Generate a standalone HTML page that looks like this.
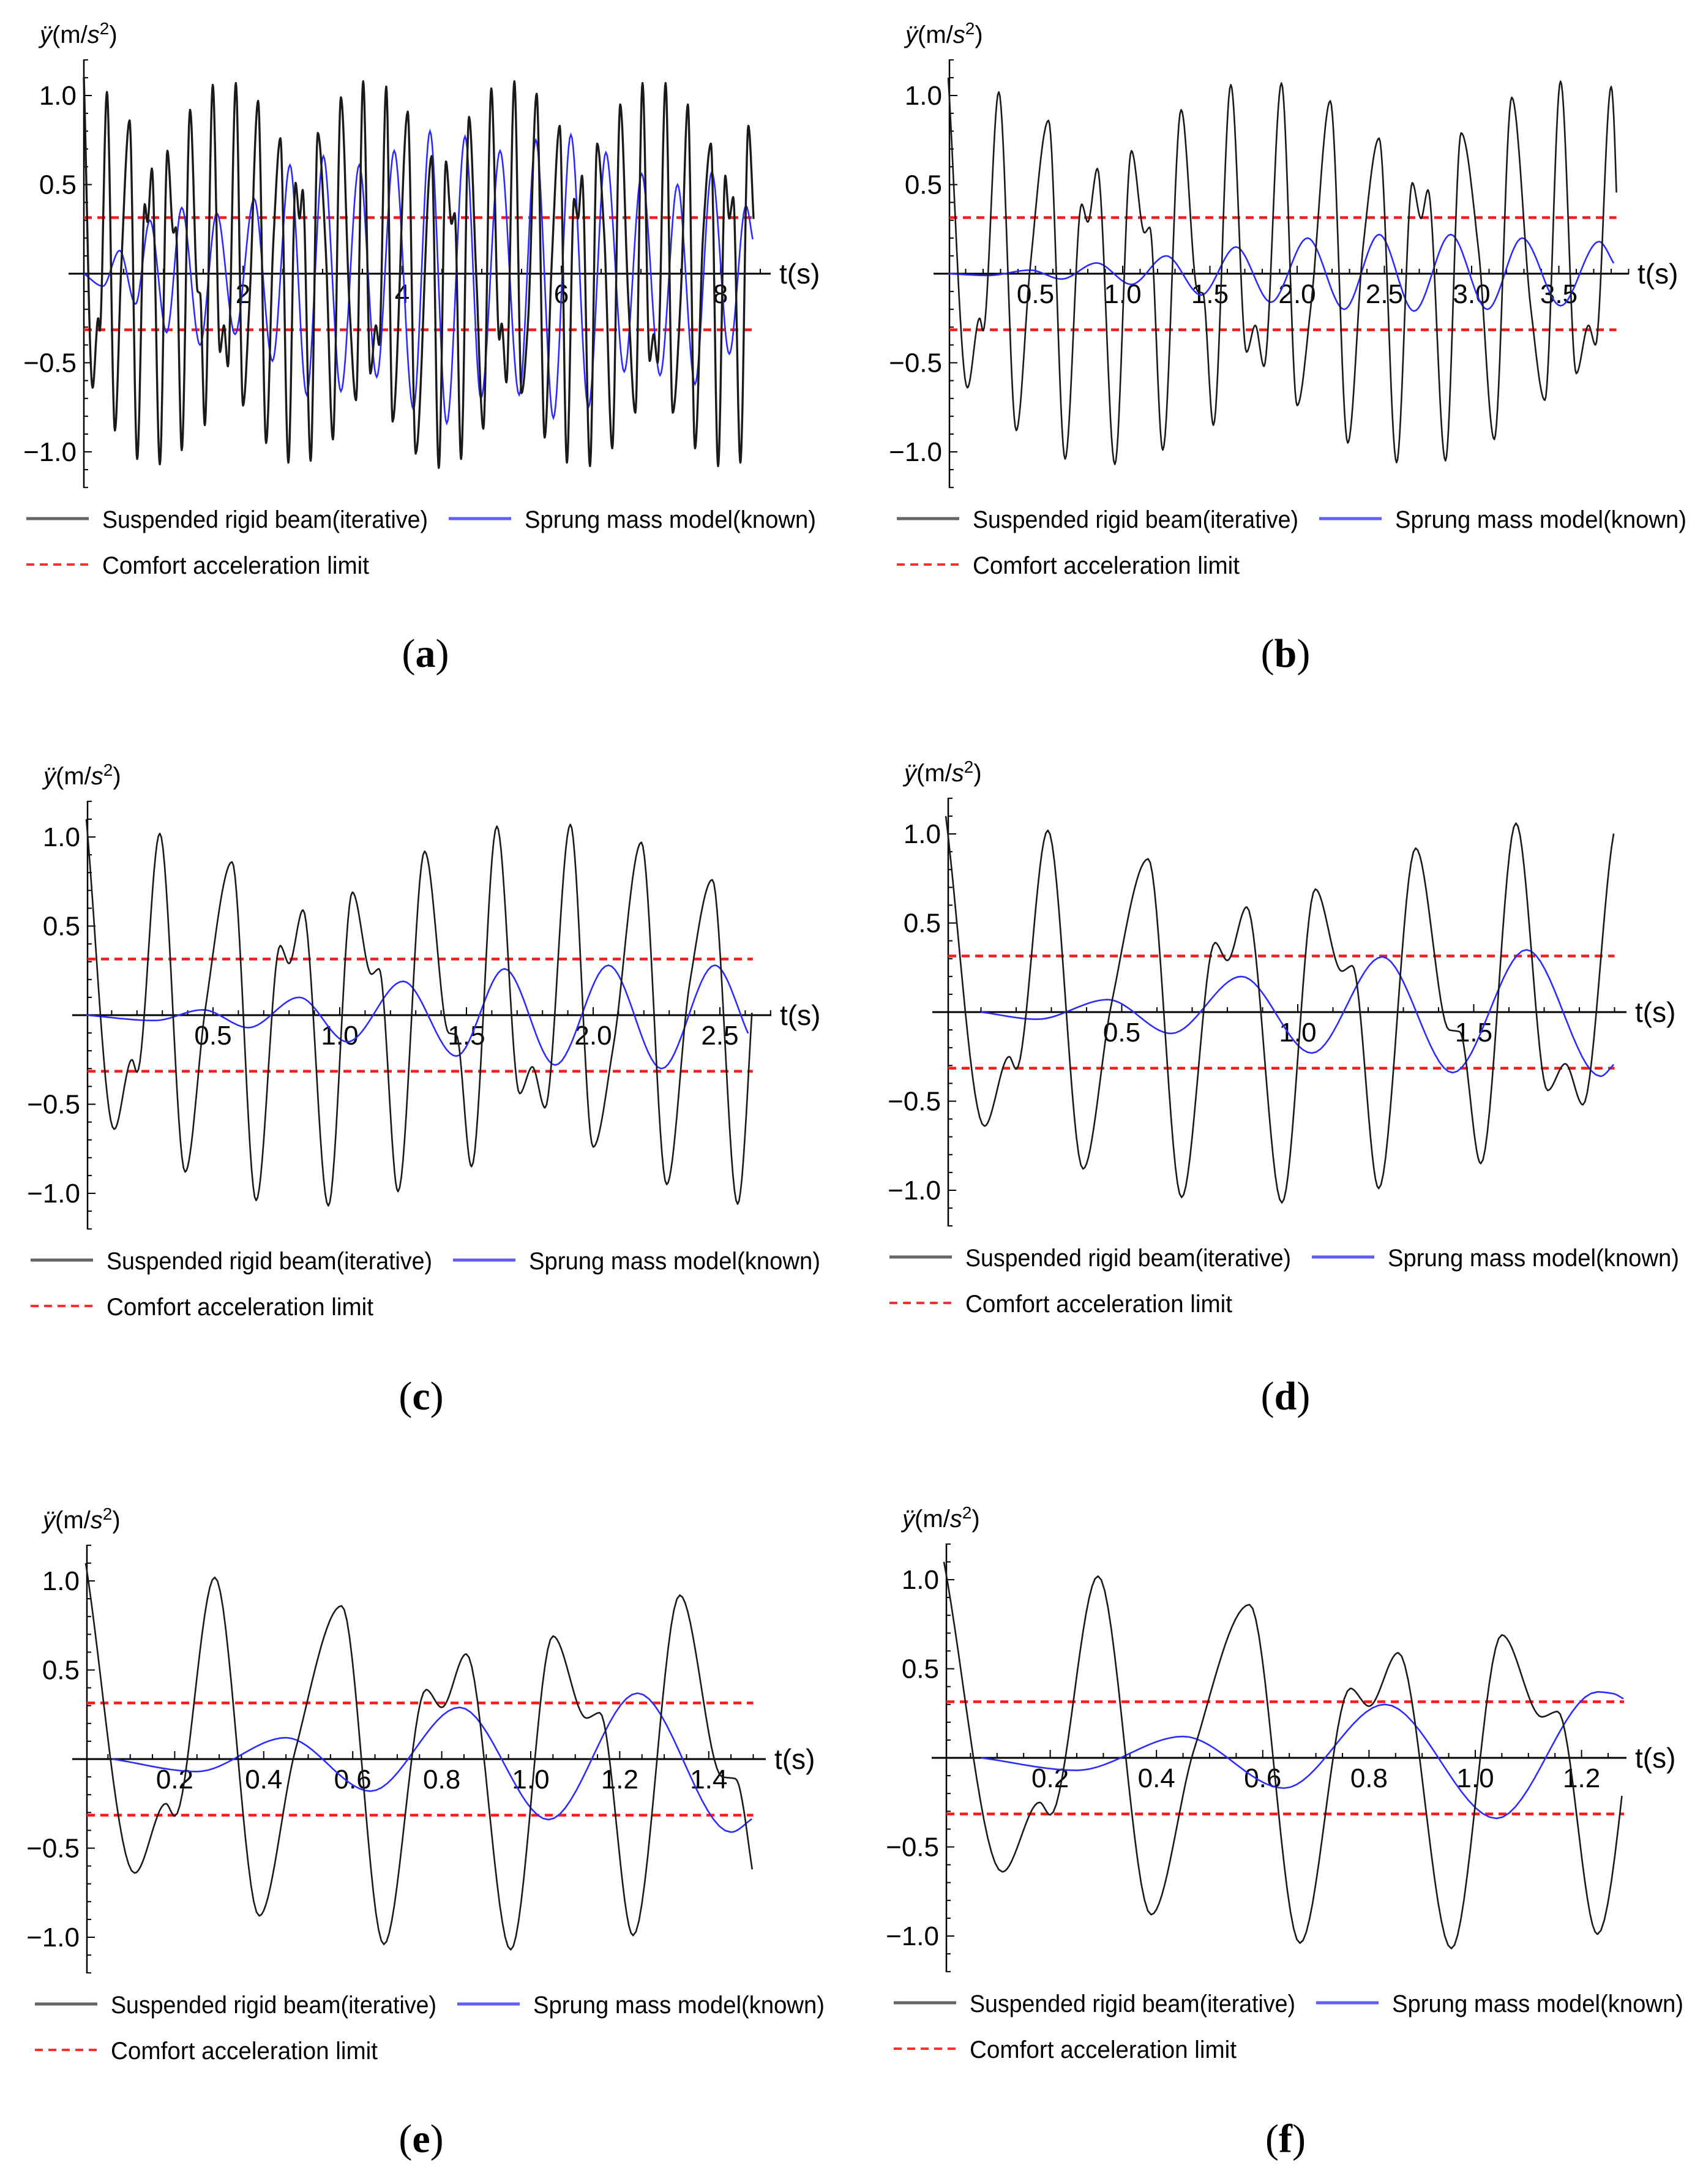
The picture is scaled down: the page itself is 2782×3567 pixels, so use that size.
<!DOCTYPE html>
<html><head><meta charset="utf-8"><style>
html,body{margin:0;padding:0;background:#fff;}
svg{display:block;}
text{font-family:"Liberation Sans",sans-serif;}
</style></head><body>
<svg id="fig" width="2782" height="3567" viewBox="0 0 2782 3567" xmlns="http://www.w3.org/2000/svg"></svg>
<script>
// Shared black series (suspended rigid beam) — extrema
const blackT=[0,0.11,0.18,0.20,0.29,0.39,0.47,0.575,0.67,0.765,0.80,0.855,0.955,1.05,1.125,1.155,1.23,1.335,1.43,1.46,1.52,1.62,1.71,1.76,1.81,1.91,2.00,2.08,2.19,2.29,2.38,2.47,2.57,2.66,2.71,2.75,2.85,2.94,3.04,3.13,3.23,3.34,3.42,3.51,3.60,3.67,3.71,3.80,3.88,4.07,4.17,4.37,4.46,4.55,4.62,4.66,4.74,4.84,4.93,5.02,5.12,5.22,5.25,5.31,5.41,5.50,5.58,5.69,5.79,5.88,5.98,6.07,6.16,6.21,6.26,6.36,6.45,6.54,6.64,6.74,6.84,6.93,7.02,7.11,7.16,7.21,7.31,7.40,7.50,7.59,7.68,7.78,7.88,7.97,8.06,8.11,8.16,8.25,8.35,8.42];
const blackV=[1.10,-0.64,-0.25,-0.32,1.02,-0.88,0.04,0.86,-1.04,0.39,0.29,0.59,-1.07,0.69,0.23,0.26,-0.99,0.92,-0.10,-0.11,-0.85,1.06,-0.44,-0.29,-0.52,1.07,-0.74,-0.17,0.97,-0.95,0.17,0.76,-1.06,0.51,0.31,0.47,-1.05,0.79,0.13,-0.93,0.99,-0.20,-0.71,1.08,-0.56,-0.29,-0.40,1.05,-0.83,0.91,-1.01,0.66,-1.09,0.63,0.28,0.34,-1.04,0.88,0.00,-0.87,1.04,-0.37,-0.28,-0.61,1.08,-0.67,-0.28,1.01,-0.92,0.07,0.83,-1.06,0.42,0.31,0.55,-1.08,0.73,0.21,-0.98,0.95,-0.13,-0.78,1.07,-0.49,-0.34,-0.50,1.07,-0.78,-0.13,0.95,-0.98,0.21,0.73,-1.08,0.55,0.31,0.43,-1.06,0.83,0.27];
// Blue series (sprung mass model) per panel
const blueAT=[0,0.24,0.45,0.65,0.83,1.04,1.23,1.46,1.67,1.90,2.14,2.37,2.59,2.80,3.01,3.23,3.46,3.68,3.90,4.14,4.35,4.56,4.79,4.99,5.23,5.47,5.68,5.90,6.12,6.34,6.56,6.79,7.01,7.24,7.46,7.68,7.89,8.11,8.32,8.41];
const blueAV=[0,-0.07,0.13,-0.17,0.30,-0.33,0.37,-0.40,0.34,-0.34,0.42,-0.49,0.61,-0.68,0.66,-0.66,0.61,-0.58,0.69,-0.76,0.80,-0.84,0.77,-0.70,0.69,-0.68,0.75,-0.81,0.78,-0.75,0.68,-0.55,0.56,-0.57,0.50,-0.62,0.57,-0.45,0.38,0.18];
const blueBT=[0,0.23,0.47,0.65,0.85,1.05,1.25,1.45,1.65,1.85,2.06,2.27,2.47,2.67,2.88,3.09,3.29,3.51,3.73,3.82];
const blueBV=[0,-0.01,0.02,-0.03,0.06,-0.06,0.10,-0.12,0.15,-0.16,0.20,-0.20,0.22,-0.21,0.22,-0.20,0.20,-0.18,0.18,0.05];
const blueCT=[0,0.27,0.46,0.64,0.84,1.03,1.25,1.46,1.65,1.85,2.06,2.27,2.48,2.62];
const blueCV=[0,-0.03,0.03,-0.07,0.10,-0.15,0.19,-0.23,0.26,-0.28,0.28,-0.30,0.28,-0.13];
const blueDT=[0.10,0.26,0.46,0.64,0.84,1.04,1.24,1.44,1.65,1.86,1.90];
const blueDV=[0,-0.04,0.07,-0.12,0.20,-0.23,0.31,-0.34,0.35,-0.36,-0.29];
const blueET=[0.06,0.25,0.45,0.64,0.84,1.04,1.24,1.45,1.50];
const blueEV=[0,-0.07,0.12,-0.18,0.29,-0.34,0.37,-0.41,-0.33];
const blueFT=[0.07,0.25,0.45,0.64,0.83,1.04,1.23,1.26,1.28];
const blueFV=[0,-0.07,0.12,-0.17,0.30,-0.34,0.37,0.36,0.33];
const comfortLimit=0.315;
const xTicksA=[2,4,6,8], xTicksB=[0.5,1.0,1.5,2.0,2.5,3.0,3.5], xTicksC=[0.5,1.0,1.5,2.0,2.5],
      xTicksD=[0.5,1.0,1.5], xTicksE=[0.2,0.4,0.6,0.8,1.0,1.2,1.4], xTicksF=[0.2,0.4,0.6,0.8,1.0,1.2];
const yTicks=[-1.0,-0.5,0.5,1.0];

const panels=[
 {id:'a',t0:137,ax:137,zy:447,sx:130,tmax:8.42,xt:xTicksA,dec:0,minor:0.5,xl:112,xr:1259,lx:43,cap:[695,1067],bT:blueAT,bV:blueAV},
 {id:'b',t0:1549,ax:1551,zy:447,sx:285,tmax:3.83,xt:xTicksB,dec:1,minor:0.1,xl:1525,xr:2661,lx:1465,cap:[2100,1067],bT:blueBT,bV:blueBV},
 {id:'c',t0:141,ax:143,zy:1658,sx:414,tmax:2.63,xt:xTicksC,dec:1,minor:0.1,xl:118,xr:1260,lx:50,cap:[688,2280],bT:blueCT,bV:blueCV},
 {id:'d',t0:1545,ax:1549,zy:1653,sx:575,tmax:1.90,xt:xTicksD,dec:1,minor:0.1,xl:1523,xr:2657,lx:1453,cap:[2100,2280],bT:blueDT,bV:blueDV},
 {id:'e',t0:140,ax:142,zy:2873,sx:727,tmax:1.50,xt:xTicksE,dec:1,minor:0.05,xl:118,xr:1251,lx:57,cap:[688,3493],bT:blueET,bV:blueEV},
 {id:'f',t0:1542,ax:1546,zy:2871,sx:868,tmax:1.28,xt:xTicksF,dec:1,minor:0.05,xl:1522,xr:2657,lx:1460,cap:[2100,3493],bT:blueFT,bV:blueFV}
];
const UNIT=291;
const NS='http://www.w3.org/2000/svg';
const svg=document.getElementById('fig');
function mk(tag,attrs,parent){const e=document.createElementNS(NS,tag);for(const k in attrs)e.setAttribute(k,attrs[k]);(parent||svg).appendChild(e);return e;}

function monotone(T,V,tmax){
  const n=T.length,d=[],m=new Array(n).fill(0);
  for(let i=0;i<n-1;i++)d.push((V[i+1]-V[i])/(T[i+1]-T[i]));
  m[0]=d[0];m[n-1]=d[n-2];
  for(let i=1;i<n-1;i++){ if(d[i-1]*d[i]<=0)m[i]=0; else {const w1=2*(T[i+1]-T[i])+(T[i]-T[i-1]),w2=(T[i+1]-T[i])+2*(T[i]-T[i-1]);m[i]=(w1+w2)/(w1/d[i-1]+w2/d[i]);} }
  const pts=[];
  for(let i=0;i<n-1;i++){
    const h=T[i+1]-T[i];
    for(let k=0;k<16;k++){
      const s=k/16,t=T[i]+s*h;
      if(t>tmax)break;
      const h00=2*s*s*s-3*s*s+1,h10=s*s*s-2*s*s+s,h01=-2*s*s*s+3*s*s,h11=s*s*s-s*s;
      pts.push([t,h00*V[i]+h10*h*m[i]+h01*V[i+1]+h11*h*m[i+1]]);
    }
    if(T[i+1]>tmax){break;}
  }
  return pts;
}
function fmt(v,dec){const s=Math.abs(v).toFixed(dec);return (v<0?'\u2212':'')+s;}

panels.forEach(p=>{
  const g=mk('g',{});
  
  
  const X=t=>p.t0+t*p.sx, Y=v=>p.zy-v*UNIT;
  const ya=mk('line',{x1:p.ax,y1:p.zy-350,x2:p.ax,y2:p.zy+350,stroke:'#000','stroke-width':2.5},g);
  
  
  for(let v=-1.2;v<=1.2001;v+=0.1){
    if(Math.abs(v)<0.01)continue;
    const major=Math.abs(Math.round(v*10)%5)===0;
    mk('line',{x1:p.ax,y1:Y(v),x2:p.ax+(major?13:7),y2:Y(v),stroke:'#000','stroke-width':2},g);
  }
  yTicks.forEach(v=>{
    const tl=mk('text',{x:p.ax-12,y:Y(v)+15,'font-size':44,'text-anchor':'end',fill:'#000'},g);
    tl.textContent=fmt(v,1);
    
    
  });
  const xa=mk('line',{x1:p.xl,y1:p.zy,x2:p.xr,y2:p.zy,stroke:'#000','stroke-width':3},g);
  
  
  const tEnd=(p.xr-p.t0)/p.sx;
  for(let t=p.minor;t<=tEnd;t+=p.minor){
    const isMaj=p.xt.some(q=>Math.abs(q-t)<1e-6);
    mk('line',{x1:X(t),y1:p.zy,x2:X(t),y2:p.zy-(isMaj?13:8),stroke:'#000','stroke-width':2},g);
  }
  p.xt.forEach(t=>{
    const tl=mk('text',{x:X(t),y:p.zy+48,'font-size':44,'text-anchor':'middle',fill:'#000'},g);
    tl.textContent=t.toFixed(p.dec);
    
    
  });
  const xt=mk('text',{x:p.xr+14,y:p.zy+16,'font-size':46,fill:'#000'},g);
  xt.textContent='t(s)';
  
  
  const yt=mk('text',{x:p.ax-72,y:p.zy-377,'font-size':40,fill:'#000'},g);
  yt.innerHTML='<tspan font-style="italic">\u00FF</tspan>(m/<tspan font-style="italic">s</tspan><tspan dy="-14" font-size="28">2</tspan><tspan dy="14">)</tspan>';
  
  
  [comfortLimit,-comfortLimit].forEach((v,i)=>{
    const rl=mk('line',{x1:p.ax,y1:Y(v),x2:X(p.tmax),y2:Y(v),stroke:'#ff1a1a','stroke-width':4.5,'stroke-dasharray':'13 9'},g);
    
    
  });
  const bp=monotone(p.bT,p.bV,p.tmax);
  const blue=mk('polyline',{points:bp.map(q=>X(q[0]).toFixed(1)+','+Y(q[1]).toFixed(1)).join(' '),fill:'none',stroke:'#2b2bff','stroke-width':2.6},g);
  
  
  const kp=monotone(blackT,blackV,p.tmax);
  const blk=mk('polyline',{points:kp.map(q=>X(q[0]).toFixed(1)+','+Y(q[1]).toFixed(1)).join(' '),fill:'none',stroke:'#1a1a1a','stroke-width':p.id==='a'?3.4:2.6,'stroke-linejoin':'round'},g);
  
  
  const ly=p.zy+400, ly2=ly+75;
  const lg=mk('g',{},g);
  
  
  mk('line',{x1:p.lx,y1:ly,x2:p.lx+102,y2:ly,stroke:'#666','stroke-width':5},lg);
  let t1=mk('text',{x:p.lx+124,y:ly+15,'font-size':40,textLength:532,lengthAdjust:'spacingAndGlyphs',fill:'#000'},lg);
  t1.textContent='Suspended rigid beam(iterative)';
  
  
  mk('line',{x1:p.lx+690,y1:ly,x2:p.lx+792,y2:ly,stroke:'#5c5cff','stroke-width':5},lg);
  let t2=mk('text',{x:p.lx+814,y:ly+15,'font-size':40,textLength:476,lengthAdjust:'spacingAndGlyphs',fill:'#000'},lg);
  t2.textContent='Sprung mass model(known)';
  
  
  mk('line',{x1:p.lx,y1:ly2,x2:p.lx+102,y2:ly2,stroke:'#ff3030','stroke-width':4,'stroke-dasharray':'13 9'},lg);
  let t3=mk('text',{x:p.lx+124,y:ly2+15,'font-size':40,textLength:436,lengthAdjust:'spacingAndGlyphs',fill:'#000'},lg);
  t3.textContent='Comfort acceleration limit';
  
  
  const cp=mk('text',{x:p.cap[0],y:p.cap[1]+22,'font-size':66,'text-anchor':'middle',fill:'#000',style:'font-family:"Liberation Serif",serif'},g);
  cp.innerHTML='(<tspan font-weight="bold">'+p.id+'</tspan>)';
  
  
});
</script>
</body></html>
